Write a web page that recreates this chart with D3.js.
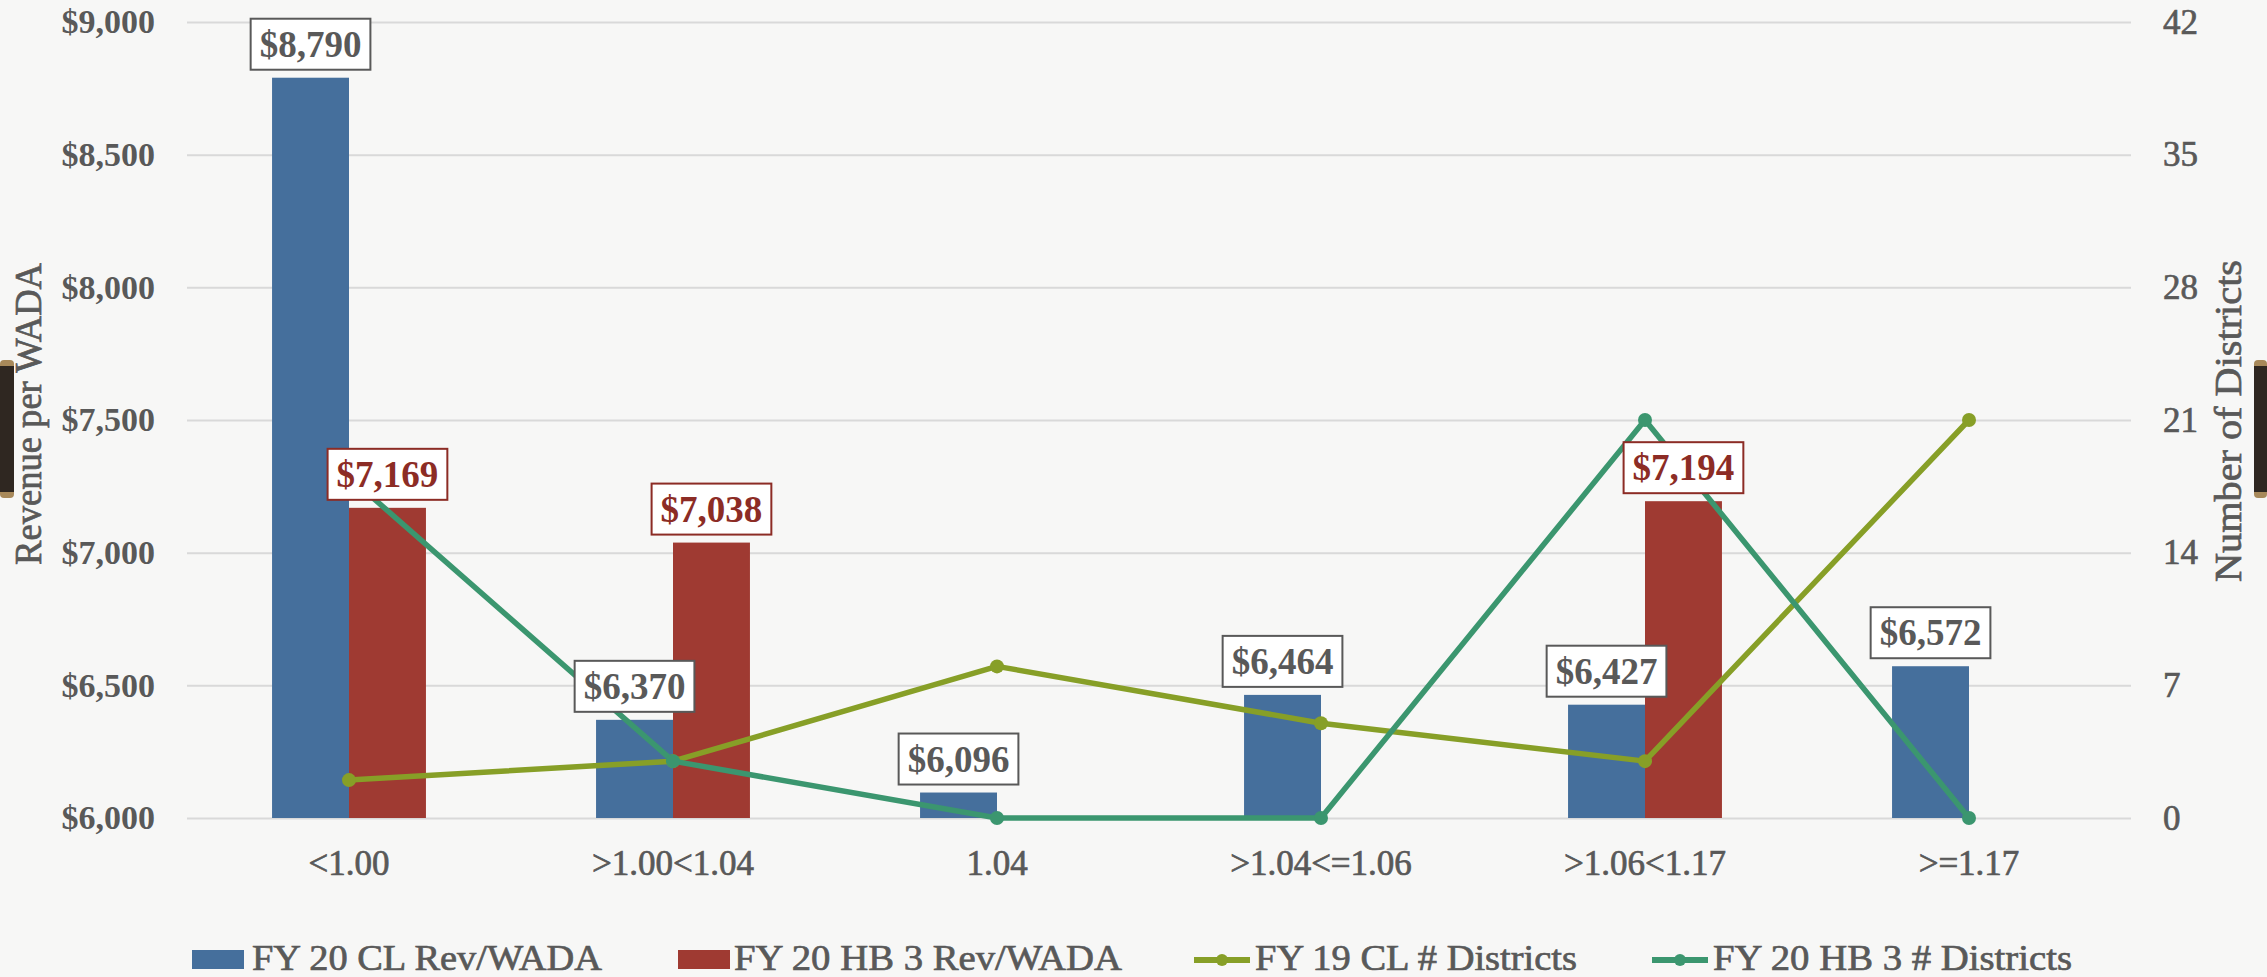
<!DOCTYPE html>
<html>
<head>
<meta charset="utf-8">
<script src="https://cdn.jsdelivr.net/npm/d3@7"></script>
<style>
  html, body { margin: 0; padding: 0; background: #f7f7f6; }
  svg { display: block; }
  text { font-family: "Liberation Serif", "DejaVu Serif", serif; }
</style>
</head>
<body>
<svg id="chart" width="2267" height="977"></svg>
<script>
// ---- data ----
const categories = ["<1.00", ">1.00<1.04", "1.04", ">1.04<=1.06", ">1.06<1.17", ">=1.17"];
const clRev = [8790, 6370, 6096, 6464, 6427, 6572];          // FY 20 CL Rev/WADA
const hb3Rev = [7169, 7038, null, null, 7194, null];          // FY 20 HB 3 Rev/WADA
const fy19Districts = [2, 3, 8, 5, 3, 21];                    // FY 19 CL # Districts
const hb3Districts = [18, 3, 0, 0, 21, 0];                    // FY 20 HB 3 # Districts
const leftTicks = [6000, 6500, 7000, 7500, 8000, 8500, 9000];
const rightTicks = [0, 7, 14, 21, 28, 35, 42];
const barSeries = ["FY 20 CL Rev/WADA", "FY 20 HB 3 Rev/WADA"];
const lineSeries = ["FY 19 CL # Districts", "FY 20 HB 3 # Districts"];

// ---- styles ----
const colBlue = "#456f9c", colRed = "#9f3a32", colOlive = "#879f27", colTeal = "#3b966f";
const textGray = "#595959", labelRed = "#8c2c25";

const svg = d3.select("#chart");
const W = 2267, H = 977;
const plot = { left: 187, right: 2131, top: 22, bottom: 818 };

// background
svg.append("rect").attr("width", W).attr("height", H).attr("fill", "#f7f7f6");

const x = d3.scaleBand().domain(categories).range([plot.left, plot.right])
  .paddingInner(0.525).paddingOuter(0.2625);
const xs = d3.scaleBand().domain(barSeries).range([0, x.bandwidth()]);
const yL = d3.scaleLinear().domain([6000, 9000]).range([plot.bottom, plot.top]);
const yR = d3.scaleLinear().domain([0, 42]).range([plot.bottom, plot.top]);
const money = v => "$" + d3.format(",")(v);

// medium-weight look for regular text
const medium = sel => sel.attr("stroke", textGray).attr("stroke-width", 0.7);

// gridlines
const gridAxis = d3.axisLeft(yL).tickValues(leftTicks).tickSize(-(plot.right - plot.left)).tickFormat("");
const g = svg.append("g").attr("transform", `translate(${plot.left},0)`).call(gridAxis);
g.select(".domain").remove();
g.selectAll(".tick line").attr("stroke", "#d9d9d9").attr("stroke-width", 2);

// left axis labels
const la = svg.append("g").attr("transform", `translate(155,0)`)
  .call(d3.axisLeft(yL).tickValues(leftTicks).tickSize(0).tickPadding(0).tickFormat(money));
la.select(".domain").remove();
la.selectAll("text").attr("font-family", "Liberation Serif").attr("font-size", 34)
  .attr("font-weight", "bold").attr("fill", textGray);

// right axis labels
const ra = svg.append("g").attr("transform", `translate(2163,0)`)
  .call(d3.axisRight(yR).tickValues(rightTicks).tickSize(0).tickPadding(0));
ra.select(".domain").remove();
ra.selectAll("text").attr("font-family", "Liberation Serif").attr("font-size", 35)
  .attr("fill", textGray).call(medium);

// x axis labels
const xa = svg.append("g").attr("transform", `translate(0,${plot.bottom})`)
  .call(d3.axisBottom(x).tickSize(0).tickPadding(0));
xa.select(".domain").remove();
xa.selectAll("text").attr("font-family", "Liberation Serif").attr("font-size", 35)
  .attr("fill", textGray).attr("dy", null).attr("y", 57).call(medium);

// axis titles
svg.append("text").attr("transform", "translate(41,414) rotate(-90)")
  .attr("text-anchor", "middle").attr("font-size", 38).attr("fill", textGray)
  .attr("textLength", 302).attr("lengthAdjust", "spacingAndGlyphs")
  .call(medium).text("Revenue per WADA");
svg.append("text").attr("transform", "translate(2241,421) rotate(-90)")
  .attr("text-anchor", "middle").attr("font-size", 38).attr("fill", textGray)
  .attr("textLength", 322).attr("lengthAdjust", "spacingAndGlyphs")
  .call(medium).text("Number of Districts");

// bars
const barData = [];
categories.forEach((c, i) => {
  barData.push({ c, s: barSeries[0], v: clRev[i], color: colBlue });
  if (hb3Rev[i] != null) barData.push({ c, s: barSeries[1], v: hb3Rev[i], color: colRed });
});
svg.append("g").selectAll("rect").data(barData).join("rect")
  .attr("x", d => x(d.c) + xs(d.s))
  .attr("width", xs.bandwidth())
  .attr("y", d => yL(d.v))
  .attr("height", d => yL(6000) - yL(d.v))
  .attr("fill", d => d.color);

// lines
const lineDefs = [
  { name: lineSeries[0], vals: fy19Districts, color: colOlive },
  { name: lineSeries[1], vals: hb3Districts, color: colTeal }
];
const cx = c => x(c) + x.bandwidth() / 2;
const lineGen = d3.line().x(d => cx(d.c)).y(d => yR(d.v));
lineDefs.forEach(ld => {
  const pts = categories.map((c, i) => ({ c, v: ld.vals[i] }));
  const lg = svg.append("g");
  lg.append("path").datum(pts).attr("d", lineGen).attr("fill", "none")
    .attr("stroke", ld.color).attr("stroke-width", 5.5).attr("stroke-linejoin", "round");
  lg.selectAll("circle").data(pts).join("circle")
    .attr("cx", d => cx(d.c)).attr("cy", d => yR(d.v)).attr("r", 7).attr("fill", ld.color);
});

// data labels
const lblG = svg.append("g");
barData.forEach(d => {
  const isRed = d.s === barSeries[1];
  const col = isRed ? labelRed : textGray;
  const bx = x(d.c) + xs(d.s) + xs.bandwidth() / 2;
  const bottom = yL(d.v) - 8;
  const grp = lblG.append("g");
  const t = grp.append("text").attr("x", bx).attr("y", bottom - 13)
    .attr("text-anchor", "middle").attr("font-size", 37).attr("font-weight", "bold")
    .attr("fill", col).text(money(d.v));
  const w = t.node().getComputedTextLength();
  grp.insert("rect", "text").attr("x", bx - w / 2 - 9).attr("y", bottom - 51)
    .attr("width", w + 18).attr("height", 51)
    .attr("fill", "#ffffff").attr("stroke", col).attr("stroke-width", 2);
});

// legend
const legend = svg.append("g");
const legItems = [
  { type: "rect", color: colBlue, label: barSeries[0], mx: 192, tx: 252, tl: 350 },
  { type: "rect", color: colRed, label: barSeries[1], mx: 678, tx: 734, tl: 388 },
  { type: "line", color: colOlive, label: lineSeries[0], mx: 1194, tx: 1255, tl: 322 },
  { type: "line", color: colTeal, label: lineSeries[1], mx: 1652, tx: 1713, tl: 359 }
];
legItems.forEach(it => {
  if (it.type === "rect") {
    legend.append("rect").attr("x", it.mx).attr("y", 950).attr("width", 52).attr("height", 19)
      .attr("fill", it.color);
  } else {
    legend.append("line").attr("x1", it.mx).attr("x2", it.mx + 56).attr("y1", 960).attr("y2", 960)
      .attr("stroke", it.color).attr("stroke-width", 6);
    legend.append("circle").attr("cx", it.mx + 28).attr("cy", 960).attr("r", 6).attr("fill", it.color);
  }
  legend.append("text").attr("x", it.tx).attr("y", 970).attr("font-size", 36)
    .attr("fill", textGray).attr("textLength", it.tl).attr("lengthAdjust", "spacingAndGlyphs")
    .call(medium).text(it.label);
});

// decorative edge clips
function clip(x0, w) {
  const cg = svg.append("g");
  cg.append("rect").attr("x", x0).attr("y", 360).attr("width", w).attr("height", 138)
    .attr("rx", 4).attr("fill", "#a8895a");
  cg.append("rect").attr("x", x0).attr("y", 366).attr("width", w).attr("height", 126)
    .attr("fill", "#2f2721");
}
clip(0, 14);
clip(2254, 13);
</script>
</body>
</html>
